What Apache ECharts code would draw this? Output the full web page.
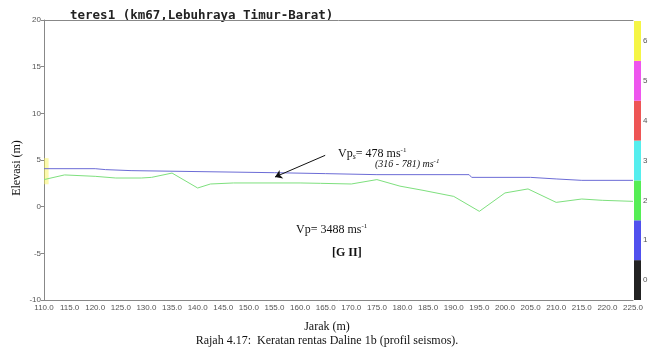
<!DOCTYPE html>
<html>
<head>
<meta charset="utf-8">
<script src="https://cdn.jsdelivr.net/npm/echarts@6/dist/echarts.min.js"></script>
<style>
html,body{margin:0;padding:0;background:#fff;}
#main{width:654px;height:358px;}
</style>
</head>
<body>
<div id="main"></div>
<script>
// Data
const title = 'teres1 (km67,Lebuhraya Timur-Barat)';
const blueDist = [110, 120, 122, 127, 155, 165, 175, 193, 193.5, 205, 210, 215, 225];
const blueElev = [4.07, 4.07, 3.97, 3.86, 3.64, 3.54, 3.43, 3.43, 3.14, 3.14, 2.97, 2.82, 2.82];
const greenDist = [110, 114, 120, 124, 129, 131, 135, 140, 142.5, 147, 160, 164, 170, 175, 179.5, 184, 190, 195, 200, 204.5, 210, 215, 219, 225];
const greenElev = [2.9, 3.4, 3.25, 3.07, 3.07, 3.14, 3.6, 2.0, 2.43, 2.54, 2.54, 2.5, 2.43, 2.9, 2.2, 1.75, 1.1, -0.5, 1.47, 1.9, 0.46, 0.82, 0.68, 0.57];
const colorbarLabels = ['0', '1', '2', '3', '4', '5', '6'];
const colorbarColors = ['#222222', '#5050ee', '#55ee55', '#55eeee', '#ee5555', '#ee55ee', '#f5f545'];
const arrowFrom = [164.9, 5.5];
const arrowTo = [155.1, 3.18];

const chart = echarts.init(document.getElementById('main'));
const pair = (xs, ys) => xs.map((x, i) => [x, ys[i]]);

const colorbarSeries = colorbarLabels.map((l, i) => ({
  type: 'bar', xAxisIndex: 1, yAxisIndex: 1, stack: 'cb', data: [1],
  barWidth: '100%', itemStyle: { color: colorbarColors[i] }, silent: true
}));

chart.setOption({
  animation: false,
  backgroundColor: '#ffffff',
  grid: [
    { left: 44, top: 20, width: 589, height: 280 },
    { left: 634, top: 21, width: 7, height: 279 }
  ],
  xAxis: [
    {
      type: 'value', min: 110, max: 225, interval: 5, gridIndex: 0, position: 'bottom',
      axisLine: { show: true, onZero: false, lineStyle: { color: '#888', width: 1 } },
      axisTick: { show: false },
      splitLine: { show: false },
      axisLabel: { fontSize: 8, color: '#555', fontFamily: 'Liberation Sans', margin: 4,
        formatter: v => v.toFixed(1) }
    },
    {
      type: 'category', data: ['c'], gridIndex: 1, show: false
    },
    {
      type: 'value', min: 110, max: 225, gridIndex: 0, position: 'top',
      axisLine: { show: true, onZero: false, lineStyle: { color: '#888', width: 1 } },
      axisTick: { show: false }, axisLabel: { show: false }, splitLine: { show: false }
    }
  ],
  yAxis: [
    {
      type: 'value', min: -10, max: 20, interval: 5, gridIndex: 0,
      axisLine: { show: true, onZero: false, lineStyle: { color: '#888', width: 1 } },
      axisTick: { show: true, length: 3, lineStyle: { color: '#888' } },
      splitLine: { show: false },
      axisLabel: { fontSize: 8, color: '#555', fontFamily: 'Liberation Sans', margin: 3 }
    },
    {
      type: 'value', min: 0, max: 7, gridIndex: 1, show: false
    },
    {
      type: 'category', data: colorbarLabels, gridIndex: 1, position: 'right',
      axisLine: { show: false }, axisTick: { show: false },
      axisLabel: { fontSize: 8, color: '#555', fontFamily: 'Liberation Sans', margin: 2 }
    }
  ],
  series: [
    {
      type: 'line', data: pair(greenDist, greenElev), symbol: 'none',
      lineStyle: { color: '#7ee07e', width: 1 },
      markArea: {
        silent: true,
        itemStyle: { color: 'rgba(250,245,90,0.5)' },
        data: [[{ coord: [110, 2.4] }, { coord: [110.9, 5.2] }]]
      }
    },
    {
      type: 'line', data: pair(blueDist, blueElev), symbol: 'none',
      lineStyle: { color: '#6c6cd6', width: 1 },
      markLine: {
        silent: true, symbol: ['none', 'arrow'], symbolSize: 7,
        label: { show: false },
        lineStyle: { color: '#111', width: 1, type: 'solid', curveness: -0.2 },
        data: [[{ coord: arrowFrom }, { coord: arrowTo }]]
      }
    },
    ...colorbarSeries
  ],
  graphic: [
    { type: 'text', left: 70, top: 9, style: { text: title, font: 'bold 12.5px "DejaVu Sans Mono"', fill: '#222' } },
    { type: 'text', x: 17, y: 168, rotation: Math.PI / 2,
      style: { text: 'Elevasi (m)', font: '12px "Liberation Serif"', fill: '#111', align: 'center', verticalAlign: 'middle' } },
    { type: 'text', x: 327, y: 327, style: { text: 'Jarak (m)', font: '12px "Liberation Serif"', fill: '#111', align: 'center', verticalAlign: 'middle' } },
    { type: 'text', x: 327, y: 341, style: { text: 'Rajah 4.17:  Keratan rentas Daline 1b (profil seismos).', font: '12px "Liberation Serif"', fill: '#111', align: 'center', verticalAlign: 'middle' } },
    { type: 'text', x: 338, y: 147, style: {
      text: '{a|Vp}{b|s}{a|= 478 ms}{c|-1}',
      rich: {
        a: { font: '12px "Liberation Serif"', fill: '#111', lineHeight: 14 },
        b: { font: 'italic 8px "Liberation Serif"', fill: '#111', verticalAlign: 'bottom' },
        c: { font: '7px "Liberation Serif"', fill: '#111', verticalAlign: 'top' }
      } } },
    { type: 'text', x: 375, y: 158, style: {
      text: '{a|(316 - 781) ms}{c|-1}',
      rich: {
        a: { font: 'italic 10px "Liberation Serif"', fill: '#111', lineHeight: 12 },
        c: { font: 'italic 7px "Liberation Serif"', fill: '#111', verticalAlign: 'top' }
      } } },
    { type: 'text', x: 296, y: 223, style: {
      text: '{a|Vp= 3488 ms}{c|-1}',
      rich: {
        a: { font: '12px "Liberation Serif"', fill: '#111', lineHeight: 14 },
        c: { font: '7px "Liberation Serif"', fill: '#111', verticalAlign: 'top' }
      } } },
    { type: 'text', x: 332, y: 247, style: { text: '[G II]', font: 'bold 12px "Liberation Serif"', fill: '#111' } }
  ]
});
</script>
</body>
</html>
